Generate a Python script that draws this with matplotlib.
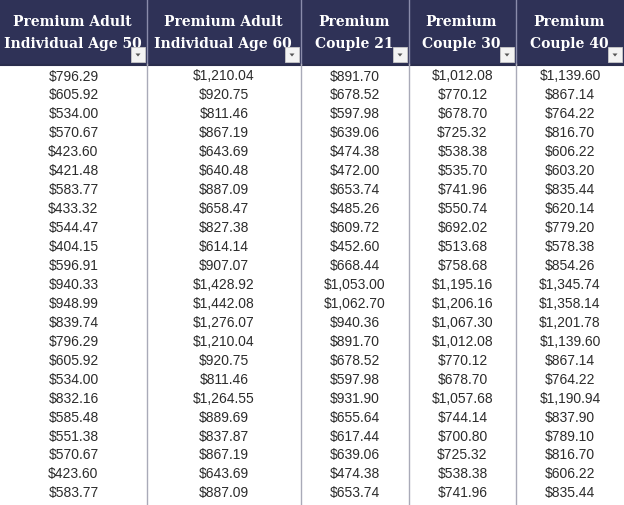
import matplotlib
matplotlib.use("Agg")
import matplotlib.pyplot as plt
from matplotlib.patches import Rectangle, Polygon

headers = [
    "Premium Adult\nIndividual Age 50",
    "Premium Adult\nIndividual Age 60",
    "Premium\nCouple 21",
    "Premium\nCouple 30",
    "Premium\nCouple 40",
]

age50 = [796.29, 605.92, 534.00, 570.67, 423.60, 421.48, 583.77, 433.32, 544.47, 404.15,
         596.91, 940.33, 948.99, 839.74, 796.29, 605.92, 534.00, 832.16, 585.48, 551.38,
         570.67, 423.60, 583.77]
age60 = [1210.04, 920.75, 811.46, 867.19, 643.69, 640.48, 887.09, 658.47, 827.38, 614.14,
         907.07, 1428.92, 1442.08, 1276.07, 1210.04, 920.75, 811.46, 1264.55, 889.69, 837.87,
         867.19, 643.69, 887.09]
couple21 = [891.70, 678.52, 597.98, 639.06, 474.38, 472.00, 653.74, 485.26, 609.72, 452.60,
            668.44, 1053.00, 1062.70, 940.36, 891.70, 678.52, 597.98, 931.90, 655.64, 617.44,
            639.06, 474.38, 653.74]
couple30 = [1012.08, 770.12, 678.70, 725.32, 538.38, 535.70, 741.96, 550.74, 692.02, 513.68,
            758.68, 1195.16, 1206.16, 1067.30, 1012.08, 770.12, 678.70, 1057.68, 744.14, 700.80,
            725.32, 538.38, 741.96]
couple40 = [1139.60, 867.14, 764.22, 816.70, 606.22, 603.20, 835.44, 620.14, 779.20, 578.38,
            854.26, 1345.74, 1358.14, 1201.78, 1139.60, 867.14, 764.22, 1190.94, 837.90, 789.10,
            816.70, 606.22, 835.44]

columns = [age50, age60, couple21, couple30, couple40]

# layout (pixels)
W, H = 624, 505
col_edges = [0, 147, 301, 409, 516, 624]
header_h = 64
row0 = 76.5
row_h = 18.95
navy = "#2f3257"

fig = plt.figure(figsize=(W / 100, H / 100), dpi=100)
ax = fig.add_axes([0, 0, 1, 1])
ax.set_xlim(0, W)
ax.set_ylim(H, 0)
ax.axis("off")

# header
ax.add_patch(Rectangle((0, 0), W, header_h, facecolor=navy, edgecolor="none"))
ax.plot([0, W], [header_h + 0.5, header_h + 0.5], color="#2a2d4d", lw=1.5)

for i, h in enumerate(headers):
    x0, x1 = col_edges[i], col_edges[i + 1]
    cx = (x0 + x1) / 2
    l1, l2 = h.split("\n")
    ax.text(cx - 1, 22, l1, ha="center", va="center", color="white",
            fontsize=10, fontweight="bold", family="DejaVu Serif")
    ax.text(cx - 1, 44, l2, ha="center", va="center", color="white",
            fontsize=10, fontweight="bold", family="DejaVu Serif")
    # dropdown button
    bx = x1 - 16
    ax.add_patch(Rectangle((bx, 47), 14, 15, facecolor="#f3f3f3",
                           edgecolor="#c8c8c8", lw=0.6, zorder=3))
    ax.add_patch(Polygon([[bx + 4.5, 53.5], [bx + 9.5, 53.5], [bx + 7, 56.5]],
                         closed=True, facecolor="#555555", edgecolor="none", zorder=4))
    # vertical separators
    if i > 0:
        ax.plot([x0, x0], [0, header_h], color="#8a8cab", lw=1.0)
        ax.plot([x0, x0], [header_h, H], color="#a9aab8", lw=1.0)

for i, vals in enumerate(columns):
    cx = (col_edges[i] + col_edges[i + 1]) / 2
    for r, v in enumerate(vals):
        ax.text(cx, row0 + r * row_h, "${:,.2f}".format(v), ha="center", va="center",
                color="#2b2b2b", fontsize=10, family="Liberation Sans")

fig.savefig("out.png", dpi=100, facecolor="white")
